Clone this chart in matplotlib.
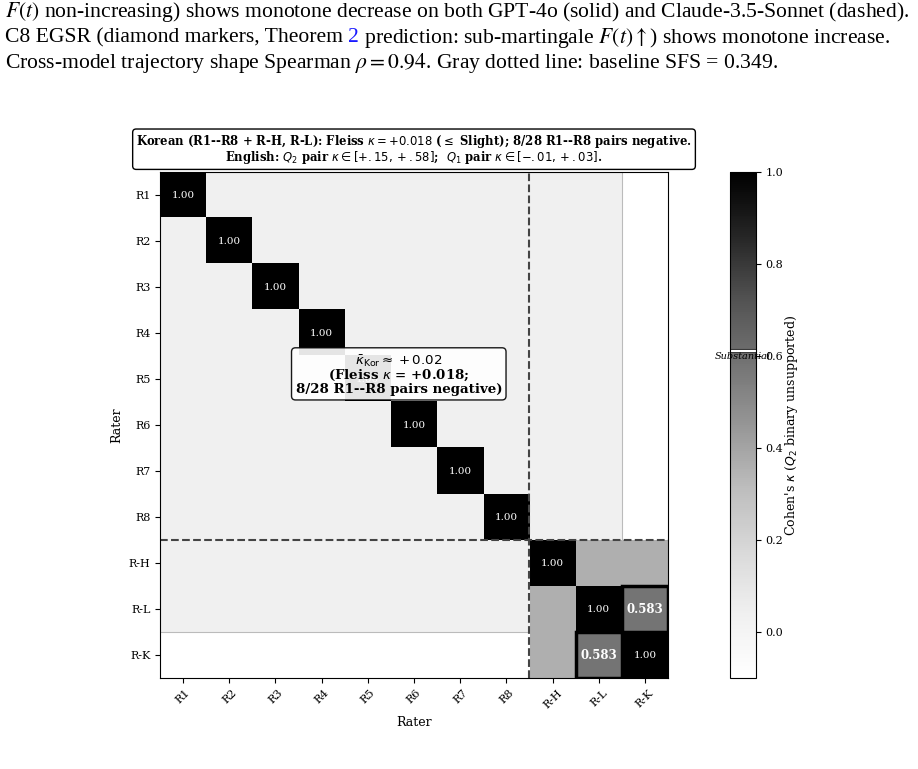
import numpy as np
import matplotlib.pyplot as plt
from matplotlib.patches import Rectangle
import matplotlib.patheffects as pe

plt.rcParams['font.family'] = 'DejaVu Serif'

# data
raters = ["R1", "R2", "R3", "R4", "R5", "R6", "R7", "R8", "R-H", "R-L", "R-K"]
kappa_kor_pairs = 0.03          # R1--R8 (and R-H, R-L vs R1--R8), all near zero
kappa_rh_rl = 0.36
kappa_rh_rk = 0.36
kappa_rl_rk = 0.583
diag = 1.00

caption = [
    [("$F(t)$ non-increasing) shows monotone decrease on both GPT-4o (solid) and Claude-3.5-Sonnet (dashed).", "black")],
    [("C8 EGSR (diamond markers, Theorem ", "black"), ("2", "#1a1aff"),
     (" prediction: sub-martingale $F(t)\\uparrow$) shows monotone increase.", "black")],
    [("Cross-model trajectory shape Spearman $\\rho = 0.94$. Gray dotted line: baseline SFS = 0.349.", "black")],
]

n = len(raters)
M = np.full((n, n), np.nan)
M[:10, :10] = kappa_kor_pairs
M[8, 9] = M[9, 8] = kappa_rh_rl
M[8, 10] = M[10, 8] = kappa_rh_rk
M[9, 10] = M[10, 9] = kappa_rl_rk
for i in range(n):
    M[i, i] = diag

fig = plt.figure(figsize=(9.18, 7.69), dpi=100)
ax = fig.add_axes([0.1743, 0.1183, 0.5534, 0.658])
cax = fig.add_axes([0.7952, 0.1183, 0.0283, 0.658])

im = ax.imshow(np.ma.masked_invalid(M), cmap='Greys', vmin=-0.1, vmax=1.0,
               aspect='auto', interpolation='nearest')

# edges of the shaded block
ax.plot([9.5, 9.5], [-0.5, 7.5], color='#bbbbbb', lw=0.8)
ax.plot([-0.5, 7.5], [9.5, 9.5], color='#bbbbbb', lw=0.8)

ax.axvline(7.5, color='#444444', ls='--', lw=1.5)
ax.axhline(7.5, color='#444444', ls='--', lw=1.5)

for i in range(n):
    ax.text(i, i, f"{M[i, i]:.2f}", color='white', fontsize=7.5, ha='center', va='center')
for (r, c) in [(9, 10), (10, 9)]:
    ax.add_patch(Rectangle((c - 0.5, r - 0.5), 1, 1, fill=False, ec='black', lw=2.5))
    ax.text(c, r, f"{M[r, c]:.3f}", color='white', fontsize=8.5, fontweight='bold',
            ha='center', va='center')

ax.set_xticks(range(n))
ax.set_xticklabels(raters, rotation=45, fontsize=8)
ax.set_yticks(range(n))
ax.set_yticklabels(raters, fontsize=8)
ax.set_xlabel("Rater", fontsize=9)
ax.set_ylabel("Rater", fontsize=9)

ax.set_title("Korean (R1--R8 + R-H, R-L): Fleiss $\\kappa = +0.018$ ($\\leq$ Slight); 8/28 R1--R8 pairs negative.\n"
             "English: $Q_2$ pair $\\kappa\\in[+.15, +.58]$;  $Q_1$ pair $\\kappa\\in[-.01, +.03]$.",
             fontsize=8.4, fontweight='bold', linespacing=0.95, pad=8,
             bbox=dict(boxstyle='round,pad=0.3', fc='white', ec='black'))

ax.text(0.47, 0.60, "$\\bar{\\kappa}_{\\rm Kor} \\approx +0.02$\n(Fleiss $\\kappa$ = +0.018;\n8/28 R1--R8 pairs negative)",
        transform=ax.transAxes, ha='center', va='center', fontsize=9.6, fontweight='bold',
        linespacing=0.95,
        bbox=dict(boxstyle='round,pad=0.3', fc='white', ec='black', alpha=0.9))

cbar = fig.colorbar(im, cax=cax)
cbar.set_ticks([0.0, 0.2, 0.4, 0.6, 0.8, 1.0])
cbar.ax.tick_params(labelsize=8)
cbar.set_label("Cohen's $\\kappa$ ($Q_2$ binary unsupported)", fontsize=9, labelpad=0)
cax.axhline(0.61, color='white', lw=1.5,
            path_effects=[pe.Stroke(linewidth=3, foreground='#333333'), pe.Normal()])
cax.text(0.5, 0.6, "Substantial", transform=cax.get_yaxis_transform(), ha='center', va='center',
         fontsize=7, style='italic')

# caption lines from the page
r = fig.canvas.get_renderer()
for k, pieces in enumerate(caption):
    x = 5 / 918
    y = 1 - (12 + 25.5 * k) / 769
    for s, col in pieces:
        t = fig.text(x, y, s, color=col, fontsize=15.6, family='Liberation Serif',
                     math_fontfamily='stix', va='center')
        bb = t.get_window_extent(renderer=r)
        x = bb.x1 / fig.bbox.width

fig.savefig("out.png", dpi=100)
